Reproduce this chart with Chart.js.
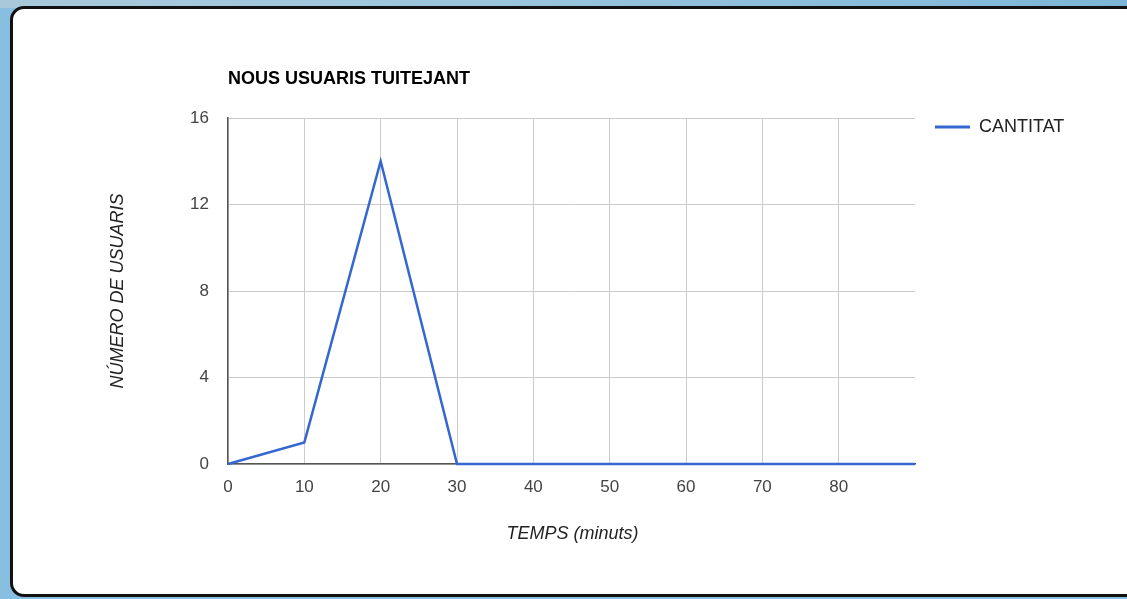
<!DOCTYPE html>
<html>
<head>
<meta charset="utf-8">
<script src="https://cdn.jsdelivr.net/npm/chart.js@4.4.1/dist/chart.umd.min.js"></script>
<style>
  html, body { margin: 0; padding: 0; }
  body {
    width: 1127px; height: 599px; overflow: hidden; position: relative;
    background: #88bfe0;
  }
  #strip {
    position: absolute; left: 0; top: 0; width: 1127px; height: 8px;
    background: linear-gradient(to right, #a9c9da, #9cc6de 40%, #7db6d8);
  }
  #frame {
    position: absolute; left: 10px; top: 6px; width: 1128px; height: 585px;
    background: #fff; border: 3px solid #111; border-radius: 14px;
  }
  #wrap { position: absolute; left: 0; top: 0; width: 1127px; height: 599px; }
</style>
</head>
<body>
<div id="strip"></div>
<div id="frame"></div>
<div id="wrap"><canvas id="chart" width="1127" height="599"></canvas></div>
<script>
// Minutes since start and new users tweeting in each interval
const minutes = [0, 10, 20, 30, 40, 50, 60, 70, 80, 90];
const cantitat = [0, 1, 14, 0, 0, 0, 0, 0, 0, 0];
const yTicks = [0, 4, 8, 12, 16];

const chartTitle = 'NOUS USUARIS TUITEJANT';
const seriesName = 'CANTITAT';
const xTitle = 'TEMPS (minuts)';
const yTitle = 'NÚMERO DE USUARIS';

const lineColor = '#3468d0';
const FONT = 'Arial, "Liberation Sans", sans-serif';

// Title, axis titles and legend drawn relative to the chart area
const annotations = {
  id: 'annotations',
  afterDraw(chart) {
    const { ctx, chartArea: a } = chart;
    ctx.save();
    ctx.textBaseline = 'middle';

    ctx.fillStyle = '#000';
    ctx.font = 'bold 18px ' + FONT;
    ctx.textAlign = 'left';
    ctx.fillText(chartTitle, a.left, a.top - 39);

    ctx.fillStyle = '#222';
    ctx.font = 'italic 18px ' + FONT;
    ctx.textAlign = 'center';
    ctx.fillText(xTitle, (a.left + a.right) / 2 + 1, a.bottom + 70);

    ctx.save();
    ctx.translate(a.left - 110, (a.top + a.bottom) / 2);
    ctx.rotate(-Math.PI / 2);
    ctx.fillText(yTitle, 0, 0);
    ctx.restore();

    // legend
    const ly = a.top + 9;
    ctx.strokeStyle = lineColor;
    ctx.lineWidth = 3;
    ctx.beginPath();
    ctx.moveTo(a.right + 20, ly);
    ctx.lineTo(a.right + 55, ly);
    ctx.stroke();
    ctx.fillStyle = '#222';
    ctx.font = '18px ' + FONT;
    ctx.textAlign = 'left';
    ctx.fillText(seriesName, a.right + 64, ly);
    ctx.restore();
  }
};

new Chart(document.getElementById('chart'), {
  type: 'line',
  data: {
    datasets: [{
      label: seriesName,
      data: minutes.map((m, i) => ({ x: m, y: cantitat[i] })),
      borderColor: lineColor,
      borderWidth: 2.5,
      pointRadius: 0,
      tension: 0,
      fill: false,
      clip: 4
    }]
  },
  options: {
    responsive: false,
    animation: false,
    layout: { padding: { left: 188, right: 212, top: 118, bottom: 95 } },
    plugins: { legend: { display: false }, title: { display: false }, tooltip: { enabled: false } },
    scales: {
      x: {
        type: 'linear',
        min: 0, max: 90,
        afterBuildTicks: s => { s.ticks = minutes.filter(v => v !== 90).map(v => ({ value: v })); },
        afterFit: s => { s.height = 40; },
        grid: { color: '#cccccc', lineWidth: 1, drawTicks: false },
        border: { color: '#555', width: 1.5 },
        ticks: { color: '#444', font: { family: FONT, size: 17 }, padding: 13, maxRotation: 0, autoSkip: false }
      },
      y: {
        min: 0, max: 16,
        afterBuildTicks: s => { s.ticks = yTicks.map(v => ({ value: v })); },
        afterFit: s => { s.width = 40; },
        grid: { color: '#cccccc', lineWidth: 1, drawTicks: false },
        border: { color: '#555', width: 1.5 },
        ticks: { color: '#444', font: { family: FONT, size: 17 }, padding: 19 }
      }
    }
  },
  plugins: [annotations]
});
</script>
</body>
</html>
